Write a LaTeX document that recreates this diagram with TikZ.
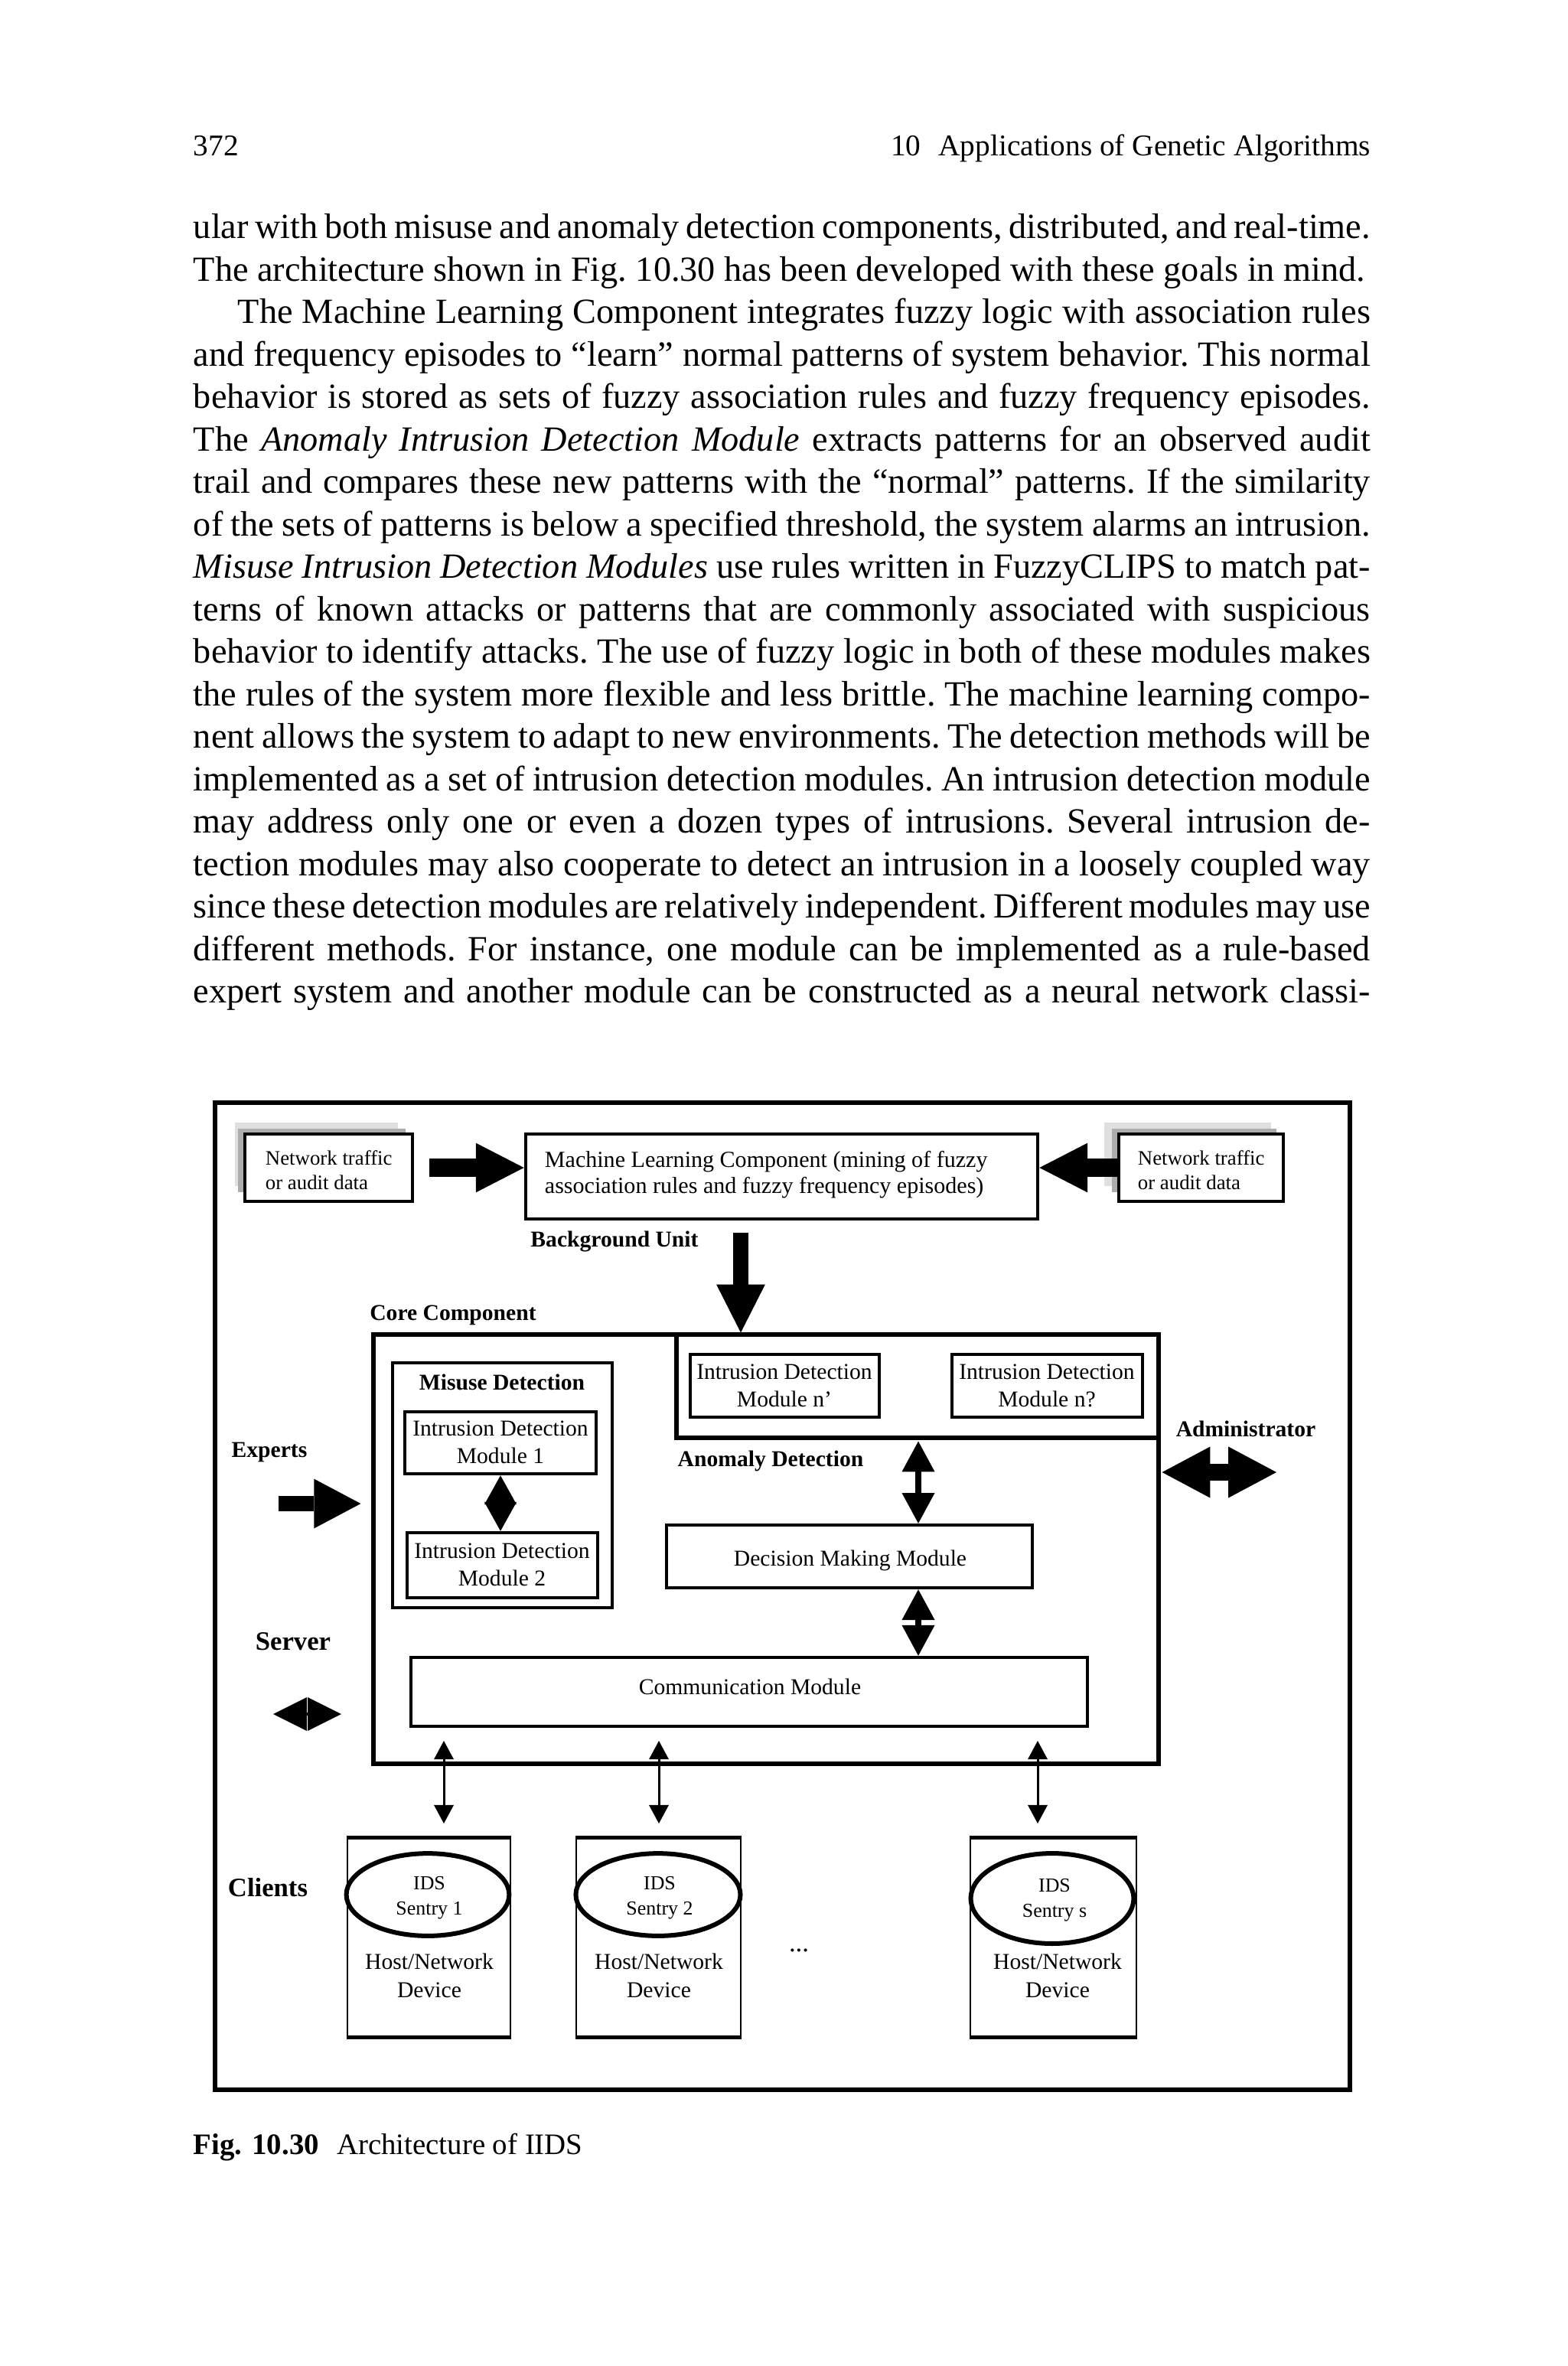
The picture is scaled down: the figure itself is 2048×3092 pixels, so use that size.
\documentclass[tikz,border=0pt]{standalone}
\usepackage{fontspec}
\setmainfont{Liberation Serif}
\usetikzlibrary{arrows.meta,fit,calc,shapes.geometric}
\newcommand\justline[1]{\noindent\makebox[\linewidth][s]{#1}\par}
\begin{document}
\begin{tikzpicture}[x=0.2162pt,y=-0.2162pt,
 pbox/.style={draw, line width=0.95pt, inner sep=0pt},
 dtxt/.style={font=\fontsize{6.4}{7.7}\selectfont, align=center, inner sep=0pt},
 nttxt/.style={font=\fontsize{5.8}{6.9}\selectfont, align=left, inner sep=0pt},
 blbl/.style={font=\fontsize{6.4}{7.7}\selectfont\bfseries, inner sep=0pt},
 bigl/.style={font=\fontsize{7.5}{9}\selectfont\bfseries, inner sep=0pt},
 harrow/.style={line width=5pt, -{Triangle[length=13.6pt,width=14pt,line width=0pt]}},
 varrow/.style={line width=4.3pt, -{Triangle[length=13.6pt,width=13.8pt,line width=0pt]}},
 exarrow/.style={line width=4.2pt, -{Triangle[length=13.2pt,width=14pt,line width=0pt]}},
 admarrow/.style={line width=4.75pt, {Triangle[length=13.6pt,width=14.5pt,line width=0pt]}-{Triangle[length=13.6pt,width=14.5pt,line width=0pt]}},
 dblv/.style={line width=1.7pt, {Triangle[length=8.6pt,width=9.3pt,line width=0pt]}-{Triangle[length=8.6pt,width=9.3pt,line width=0pt]}},
 dblm/.style={line width=1.7pt, {Triangle[length=8.2pt,width=9.1pt,line width=0pt]}-{Triangle[length=8.2pt,width=9.1pt,line width=0pt]}},
 srvarrow/.style={line width=1pt, {Triangle[length=9.5pt,width=9.5pt,line width=0pt]}-{Triangle[length=9.5pt,width=9.5pt,line width=0pt]}},
 thinarr/.style={line width=0.65pt, {Triangle[length=5.2pt,width=5.6pt,line width=0pt]}-{Triangle[length=5.2pt,width=5.6pt,line width=0pt]}},
 clbox/.style={draw, line width=0.6pt, inner sep=0pt},
 sentry/.style={ellipse, draw, line width=1.3pt, inner sep=0pt},
 stxt/.style={font=\fontsize{5.6}{7.2}\selectfont, align=center, inner sep=0pt},
 htxt/.style={font=\fontsize{6.4}{8}\selectfont, align=center, inner sep=0pt},
]
\useasboundingbox (0,0) rectangle (2048,3092);
\fill[white] (0,0) rectangle (2048,3092);

% running head
\node[anchor=base west, inner sep=0pt, font=\fontsize{8.5}{10}\selectfont] (pgno) at (252,203) {372};
\node[anchor=base east, inner sep=0pt, font=\fontsize{8.5}{10}\selectfont] (rhead) at (1792,203) {10\hspace{5pt}Applications of Genetic Algorithms};

% body text
\node[anchor=base west, inner sep=0pt] (body) at (252,311.5) {\parbox[t]{332.5pt}{\fontsize{10}{12}\selectfont\frenchspacing\parindent=0pt
\justline{ular with both misuse and anomaly detection components, distributed, and real-time.}
\noindent\makebox[\linewidth][l]{The architecture shown in Fig.~10.30 has been developed with these goals in mind.}\par
\justline{\hspace*{12.5pt}The Machine Learning Component integrates fuzzy logic with association rules}
\justline{and frequency episodes to “learn” normal patterns of system behavior. This normal}
\justline{behavior is stored as sets of fuzzy association rules and fuzzy frequency episodes.}
\justline{The \textit{Anomaly Intrusion Detection Module} extracts patterns for an observed audit}
\justline{trail and compares these new patterns with the “normal” patterns. If the similarity}
\justline{of the sets of patterns is below a specified threshold, the system alarms an intrusion.}
\justline{\textit{Misuse Intrusion Detection Modules} use rules written in FuzzyCLIPS to match pat-}
\justline{terns of known attacks or patterns that are commonly associated with suspicious}
\justline{behavior to identify attacks. The use of fuzzy logic in both of these modules makes}
\justline{the rules of the system more flexible and less brittle. The machine learning compo-}
\justline{nent allows the system to adapt to new environments. The detection methods will be}
\justline{implemented as a set of intrusion detection modules. An intrusion detection module}
\justline{may address only one or even a dozen types of intrusions. Several intrusion de-}
\justline{tection modules may also cooperate to detect an intrusion in a loosely coupled way}
\justline{since these detection modules are relatively independent. Different modules may use}
\justline{different methods. For instance, one module can be implemented as a rule-based}
\justline{expert system and another module can be constructed as a neural network classi-}
}};

% figure frame
\node[draw, line width=1.3pt, inner sep=0pt, fit={(281,1441) (1764,2731)}] (frame) {};

% network traffic boxes with shadows
\fill[gray!25] (307,1467) rectangle (520,1550);
\fill[gray!65] (311,1475) rectangle (530,1558);
\node[pbox, fill=white, fit={(320,1482) (539,1570)}] (ntl) {};
\node[nttxt, anchor=west] (ntlt) at (346,1529) {Network traffic\\or audit data};

\fill[gray!25] (1443,1467) rectangle (1661,1550);
\fill[gray!65] (1453,1475) rectangle (1668,1558);
\node[pbox, fill=white, fit={(1462,1482) (1677,1570)}] (ntr) {};
\node[nttxt, anchor=west] (ntrt) at (1486,1529) {Network traffic\\or audit data};

% machine learning component
\node[pbox, line width=1pt, fit={(687,1482) (1356,1593)}] (ml) {};
\node[dtxt, font=\fontsize{6.5}{7.24}\selectfont, align=left, anchor=west] (mlt) at (711,1535) {Machine Learning Component (mining of fuzzy\\association rules and fuzzy frequency episodes)};

\draw[harrow] ($(ntl.east)+(20,0)$) -- (ntl.east -| ml.west);
\draw[harrow] (ntr.west) -- (ntr.west -| ml.east);

\node[blbl] (bul) at (803,1622) {Background Unit};
\node[blbl] (ccl) at (592,1719) {Core Component};

% core component
\node[draw, line width=1.1pt, inner sep=0pt, fit={(488,1744) (1514,2305)}] (core) {};
\coordinate (bu) at (968,1611);
\draw[varrow] (bu) -- (bu |- core.north);

% anomaly detection area
\node[draw, line width=1.1pt, inner sep=0pt, fit={(884,1744) (1514,1879)}] (anom) {};
\node[pbox, fit={(902,1770) (1149,1852)}] (idmn1) {};
\node[dtxt] (idmn1t) at (1025,1811) {Intrusion Detection\\Module n’};
\node[pbox, fit={(1244,1770) (1493,1852)}] (idmn2) {};
\node[dtxt] (idmn2t) at (1368,1811) {Intrusion Detection\\Module n?};
\node[blbl] (adl) at (1007,1909) {Anomaly Detection};

% misuse detection
\node[pbox, fit={(513,1781) (800,2101)}] (mis) {};
\node[blbl] (misl) at (656,1806) {Misuse Detection};
\node[pbox, fit={(529,1845) (779,1926)}] (idm1) {};
\node[dtxt] (idm1t) at (654,1885) {Intrusion Detection\\Module 1};
\node[pbox, fit={(532,2003) (781,2088)}] (idm2) {};
\node[dtxt] (idm2t) at (656,2045) {Intrusion Detection\\Module 2};
\draw[dblm] (idm1.south) -- (idm1.south |- idm2.north);

% decision making and communication
\node[pbox, fit={(871,1993) (1349,2075)}] (dmm) {};
\node[dtxt] (dmmt) at (1111,2039) {Decision Making Module};
\node[pbox, line width=1pt, fit={(537,2166) (1421,2256)}] (comm) {};
\node[dtxt] (commt) at (980,2204) {Communication Module};
\coordinate (ax) at (1200,0);
\draw[dblv] ($(anom.south -| ax)+(0,2)$) -- (dmm.north -| ax);
\draw[dblv] (dmm.south -| ax) -- (comm.north -| ax);

% side labels and arrows
\node[blbl] (adml) at (1628,1867) {Administrator};
\coordinate (adm) at (1668,1924);
\draw[admarrow] ($(adm -| core.east)+(2,0)$) -- (adm);

\node[blbl] (expl) at (352,1898) {Experts};
\coordinate (exa) at (364,1965);
\draw[exarrow] (exa) -- ($(exa -| core.west)+(-14,0)$);

\node[bigl] (srvl) at (383,2145) {Server};
\coordinate (sv) at (357,2240);
\draw[srvarrow] (sv) -- ($(sv)+(89,0)$);

\node[bigl] (cll) at (350,2467) {Clients};

% links to clients
\coordinate (u1) at (580,2275);
\coordinate (u2) at (861,2275);
\coordinate (u3) at (1356,2275);
\draw[thinarr] (u1) -- ($(u1)+(0,108)$);
\draw[thinarr] (u2) -- ($(u2)+(0,108)$);
\draw[thinarr] (u3) -- ($(u3)+(0,108)$);

% clients
\node[clbox, fit={(454,2403) (667,2661)}] (c1) {};
\draw[line width=1.1pt] (c1.north west) -- (c1.north east) (c1.south west) -- (c1.south east);
\node[sentry, minimum width=46pt, minimum height=23.3pt] (e1) at (559,2476) {};
\node[stxt] (e1t) at (561,2480) {IDS\\Sentry 1};
\node[htxt] (h1) at (561,2582) {Host/Network\\Device};

\node[clbox, fit={(753,2403) (968,2661)}] (c2) {};
\draw[line width=1.1pt] (c2.north west) -- (c2.north east) (c2.south west) -- (c2.south east);
\node[sentry, minimum width=46.5pt, minimum height=23.3pt] (e2) at (860,2476) {};
\node[stxt] (e2t) at (862,2480) {IDS\\Sentry 2};
\node[htxt] (h2) at (861,2582) {Host/Network\\Device};

\node[clbox, fit={(1268,2403) (1485,2661)}] (c3) {};
\draw[line width=1.1pt] (c3.north west) -- (c3.north east) (c3.south west) -- (c3.south east);
\node[sentry, minimum width=46pt, minimum height=25.5pt] (e3) at (1375,2481) {};
\node[stxt] (e3t) at (1378,2483) {IDS\\Sentry s};
\node[htxt] (h3) at (1382,2582) {Host/Network\\Device};

\node[anchor=base, inner sep=0pt, font=\fontsize{7.5}{9}\selectfont] (dots) at (1044,2550) {...};

% caption
\node[anchor=base west, inner sep=0pt, font=\fontsize{8.4}{10}\selectfont] (cap) at (252,2815) {\textbf{Fig. 10.30}\hspace{5pt}Architecture of IIDS};
\end{tikzpicture}
\end{document}
